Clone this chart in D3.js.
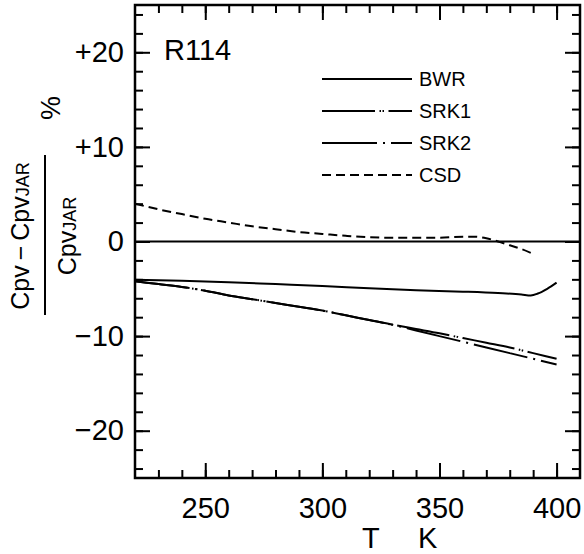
<!DOCTYPE html>
<html>
<head>
<meta charset="utf-8">
<script src="https://cdn.jsdelivr.net/npm/d3@7"></script>
<style>
  body { margin: 0; background: #fff; }
  svg { display: block; }
  text { font-family: "Liberation Sans", Arial, Helvetica, sans-serif; fill: #000; }
</style>
</head>
<body>
<svg id="chart" width="584" height="554"></svg>
<script>
// Relative deviation of Cpv from the JAR reference for R114, in percent
const xLabelTicks = [250, 300, 350, 400];
const yLabelTicks = [20, 10, 0, -10, -20];
const seriesNames = ["BWR", "SRK1", "SRK2", "CSD"];
const substance = "R114";

const bwrT   = [220, 240, 260, 280, 300, 320, 340, 360, 375, 385, 389, 392, 396, 400];
const bwrDev = [-4.05, -4.15, -4.3, -4.5, -4.7, -4.95, -5.15, -5.3, -5.45, -5.6, -5.7, -5.5, -5.0, -4.35];

const srk1T   = [220, 230, 240, 250, 260, 270, 280, 290, 300, 310, 320, 330, 340, 350, 360, 370, 380, 390, 400];
const srk1Dev = [-4.2, -4.5, -4.8, -5.2, -5.7, -6.1, -6.5, -6.9, -7.3, -7.8, -8.3, -8.8, -9.25, -9.7, -10.2, -10.7, -11.2, -11.8, -12.4];

const srk2T   = [220, 230, 240, 250, 260, 270, 280, 290, 300, 310, 320, 330, 340, 350, 360, 370, 380, 390, 400];
const srk2Dev = [-4.2, -4.5, -4.8, -5.2, -5.7, -6.1, -6.5, -6.9, -7.3, -7.8, -8.3, -8.8, -9.4, -10.0, -10.6, -11.2, -11.8, -12.4, -13.0];

const csdT   = [220, 230, 240, 250, 260, 270, 280, 290, 300, 310, 320, 330, 340, 350, 360, 365, 370, 375, 380, 385, 389];
const csdDev = [4.0, 3.4, 2.9, 2.4, 2.0, 1.6, 1.3, 1.0, 0.8, 0.6, 0.45, 0.4, 0.4, 0.4, 0.5, 0.5, 0.35, 0.0, -0.4, -0.8, -1.2];

const dashes = {
  BWR:  null,
  SRK1: "53 4.5 1.5 1.5 1.5 4.5",
  SRK2: "55 6 2 6",
  CSD:  "9 5"
};

const svg = d3.select("#chart");
const x = d3.scaleLinear().domain([220, 410]).range([135, 580]);
const y = d3.scaleLinear().domain([-25, 25]).range([478, 5]);

const minorX = d3.range(230, 410, 10);
const minorY = d3.range(-24, 25, 2);

const fmtY = d => d > 0 ? "+" + d : d < 0 ? "\u2212" + Math.abs(d) : "0";

// frame
svg.append("rect")
  .attr("x", x(220)).attr("y", y(25))
  .attr("width", x(410) - x(220)).attr("height", y(-25) - y(25))
  .attr("fill", "none").attr("stroke", "#000").attr("stroke-width", 2.5);

// zero reference line
svg.append("path")
  .attr("d", `M${x(220)},${y(0)}H${x(410)}`)
  .attr("stroke", "#000").attr("stroke-width", 2);

const curve = d3.line().x(d => x(d[0])).y(d => y(d[1])).curve(d3.curveMonotoneX);
const series = [
  { name: "BWR",  T: bwrT,  v: bwrDev },
  { name: "SRK1", T: srk1T, v: srk1Dev },
  { name: "SRK2", T: srk2T, v: srk2Dev },
  { name: "CSD",  T: csdT,  v: csdDev }
];
svg.append("g").selectAll("path")
  .data(series)
  .join("path")
  .attr("d", s => curve(s.T.map((t, i) => [t, s.v[i]])))
  .attr("fill", "none")
  .attr("stroke", "#000")
  .attr("stroke-width", 2)
  .attr("stroke-dasharray", s => dashes[s.name]);

// legend
const legend = svg.append("g");
seriesNames.forEach((name, i) => {
  const yy = 79 + i * 32;
  legend.append("path")
    .attr("d", `M322,${yy}H412`)
    .attr("fill", "none")
    .attr("stroke", "#000").attr("stroke-width", 2)
    .attr("stroke-dasharray", dashes[name]);
  legend.append("text")
    .attr("x", 419).attr("y", yy).attr("dy", "0.36em")
    .attr("font-size", 20).text(name);
});

// substance label
svg.append("text").attr("x", 164).attr("y", 60).attr("font-size", 29).text(substance);

// x-axis title
svg.append("text").attr("x", 362).attr("y", 548).attr("font-size", 29).text("T");
svg.append("text").attr("x", 418).attr("y", 548).attr("font-size", 29).text("K");

// y-axis title: (Cpv − CpvJAR) / CpvJAR  %
const yTitle = svg.append("g");
const num = yTitle.append("text")
  .attr("transform", "translate(29,236) rotate(-90)")
  .attr("text-anchor", "middle").attr("font-size", 25);
num.append("tspan").text("Cpv\u2009\u2212\u2009Cpv");
num.append("tspan").attr("font-size", 18).text("JAR");
const den = yTitle.append("text")
  .attr("transform", "translate(76,236) rotate(-90)")
  .attr("text-anchor", "middle").attr("font-size", 25);
den.append("tspan").text("Cpv");
den.append("tspan").attr("font-size", 18).text("JAR");
yTitle.append("path")
  .attr("d", "M45,155V315")
  .attr("stroke", "#000").attr("stroke-width", 2);
yTitle.append("text")
  .attr("transform", "translate(60,108) rotate(-90)")
  .attr("text-anchor", "middle").attr("font-size", 27).text("%");

// axes last: inward ticks on all four sides, short every step, long at labelled values
function styleAxis(g) {
  g.select(".domain").remove();
  g.selectAll(".tick line").attr("stroke", "#000").attr("stroke-width", 2);
  g.selectAll(".tick text").attr("font-size", 29).attr("fill", "#000");
}
function side(axisFn, pos, scale, minor, major, labelled) {
  const tr = (axisFn === d3.axisBottom || axisFn === d3.axisTop)
    ? `translate(0,${pos})` : `translate(${pos},0)`;
  svg.append("g").attr("transform", tr)
    .call(axisFn(scale).tickValues(minor).tickSize(-8).tickFormat(""))
    .call(styleAxis);
  const ax = axisFn(scale).tickValues(major).tickSize(-15);
  if (labelled) ax.tickPadding(labelled.padding).tickFormat(labelled.format);
  else ax.tickFormat("");
  svg.append("g").attr("transform", tr).call(ax).call(styleAxis);
}
side(d3.axisBottom, y(-25), x, minorX, xLabelTicks, { padding: 19, format: d3.format("d") });
side(d3.axisTop,    y(25),  x, minorX, xLabelTicks, null);
side(d3.axisLeft,   x(220), y, minorY, yLabelTicks, { padding: 11, format: fmtY });
side(d3.axisRight,  x(410), y, minorY, yLabelTicks, null);
</script>
</body>
</html>
